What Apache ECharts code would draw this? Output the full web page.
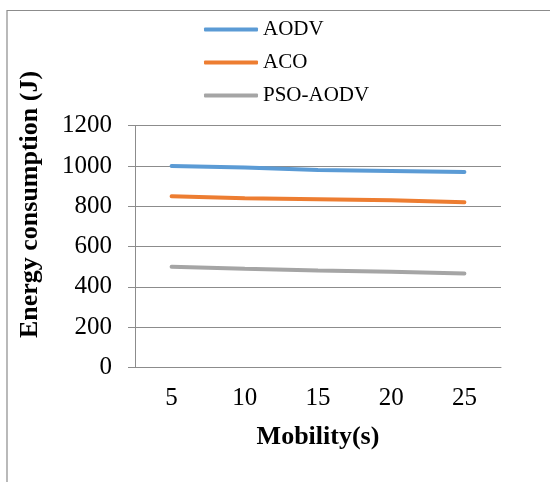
<!DOCTYPE html>
<html><head><meta charset="utf-8">
<script src="https://cdn.jsdelivr.net/npm/echarts@6/dist/echarts.min.js"></script>
<style>html,body{margin:0;padding:0;background:#fff}#c{width:550px;height:482px}</style>
</head><body><div id="c"></div>
<script>
var categories = ['5', '10', '15', '20', '25'];
var seriesNames = ['AODV', 'ACO', 'PSO-AODV'];
var aodv = [1000, 992, 980, 975, 970];
var aco = [850, 840, 835, 830, 820];
var psoAodv = [500, 490, 482, 475, 467];
var yTicks = [0, 200, 400, 600, 800, 1000, 1200];
var colors = ['#5B9BD5', '#ED7D31', '#A5A5A5'];
var font = '"Liberation Serif", "Times New Roman", serif';

var chart = echarts.init(document.getElementById('c'), null, {renderer: 'canvas'});
function mk(name, data, color) {
  return {name: name, type: 'line', data: data, showSymbol: false, symbol: 'none',
    lineStyle: {color: color, width: 4, cap: 'round'}, itemStyle: {color: color}, animation: false};
}
chart.setOption({
  animation: false,
  color: colors,
  graphic: [
    {type: 'rect', shape: {x: 7, y: 10.5, width: 700, height: 700}, style: {fill: 'none', stroke: '#8c8c8c', lineWidth: 1.2}, silent: true},
    {type: 'text', x: 30, y: 204.5, rotation: Math.PI / 2,
      style: {text: 'Energy consumption (J)', font: 'bold 26px ' + font, fill: '#000', align: 'center', verticalAlign: 'middle'}}
  ],
  legend: {
    orient: 'vertical', left: 199, top: 14, itemWidth: 54, itemHeight: 4, itemGap: 12, icon: 'roundRect',
    textStyle: {fontFamily: font, fontSize: 21, lineHeight: 21, color: '#000'},
    data: seriesNames
  },
  grid: {left: 135, right: 49, top: 125.7, bottom: 114.5, containLabel: false},
  xAxis: {
    type: 'category', data: categories, boundaryGap: true,
    axisLine: {lineStyle: {color: '#8c8c8c', width: 1}},
    axisTick: {show: false},
    axisLabel: {fontFamily: font, fontSize: 25, color: '#000', margin: 18},
    name: 'Mobility(s)', nameLocation: 'middle', nameGap: 57,
    nameTextStyle: {fontFamily: font, fontSize: 26, fontWeight: 'bold', color: '#000'}
  },
  yAxis: {
    type: 'value', min: 0, max: 1200, interval: 200,
    axisLine: {show: true, lineStyle: {color: '#8c8c8c', width: 1}},
    axisTick: {show: true, inside: false, length: 7, lineStyle: {color: '#8c8c8c'}},
    splitLine: {show: true, lineStyle: {color: '#8c8c8c', width: 1}},
    axisLabel: {fontFamily: font, fontSize: 25, color: '#000', margin: 23,
      formatter: function (v) { return yTicks.indexOf(v) >= 0 ? String(v) : ''; }}
  },
  series: [mk(seriesNames[0], aodv, colors[0]), mk(seriesNames[1], aco, colors[1]), mk(seriesNames[2], psoAodv, colors[2])]
});
</script></body></html>
